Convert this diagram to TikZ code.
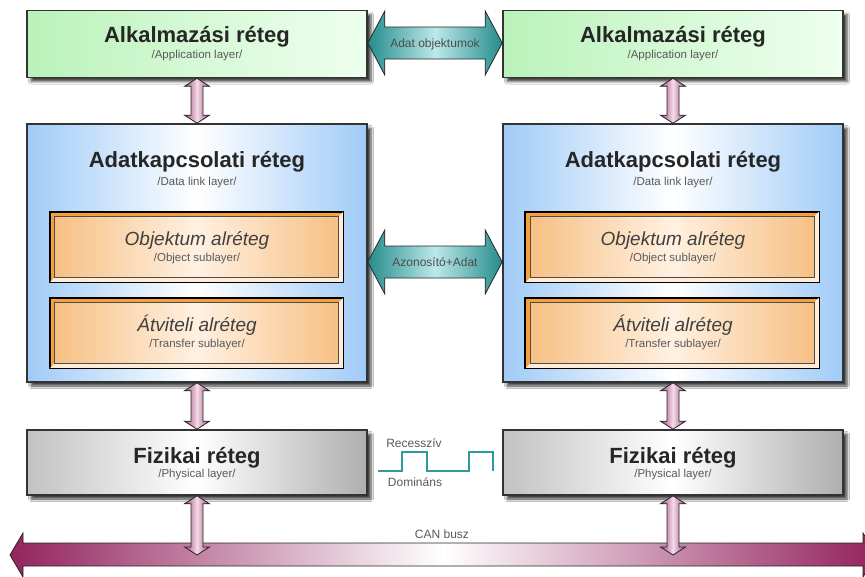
\documentclass[tikz,border=0pt]{standalone}
\usepackage{fontspec}
\setmainfont{Liberation Sans}
\usetikzlibrary{calc,shadows.blur}
\definecolor{boxline}{HTML}{333333}
\definecolor{grnL}{HTML}{BAF2BA}
\definecolor{grnM}{HTML}{D6F9D6}
\definecolor{grnR}{HTML}{EEFFEE}
\definecolor{bluE}{HTML}{A0CBF7}
\definecolor{grayE}{HTML}{C2C2C2}
\definecolor{orgE}{HTML}{F7C084}
\definecolor{orgM}{HTML}{FFF1E2}
\definecolor{orgD}{HTML}{F4A03C}
\definecolor{pinkE}{HTML}{A84579}
\definecolor{pinkM}{HTML}{F2DCE8}
\definecolor{busE}{HTML}{93235E}
\definecolor{tealD}{HTML}{258C8C}
\definecolor{tealL}{HTML}{BDE8E8}
\definecolor{wave}{HTML}{2E9C9C}
\definecolor{subtxt}{HTML}{5A5A5A}
\tikzset{
  layerbox/.style={draw=boxline, line width=1.6pt, inner sep=0pt,
    blur shadow={shadow xshift=4pt,shadow yshift=-4pt,shadow blur radius=2.5pt,shadow opacity=75}},
  greenbox/.style={layerbox, minimum width=340, minimum height=67, shading=axis, left color=grnL, right color=grnR, middle color=grnM},
  bluebox/.style={layerbox, minimum width=340, minimum height=258, shading=axis, left color=bluE, right color=bluE, middle color=white},
  graybox/.style={layerbox, minimum width=340, minimum height=65, shading=axis, left color=grayE, right color=grayE!90!black, middle color=white},
  orgbox/.style={draw=black, line width=1.2pt, fill=orgD, inner sep=0pt, minimum width=293, minimum height=70},
  orginner/.style={draw=black!70, line width=0.5pt, shading=axis, left color=orgE, right color=orgE, middle color=orgM},
  titletxt/.style={anchor=base, font=\fontsize{22}{24}\selectfont\bfseries, text=black!85},
  itxt/.style={anchor=base, font=\fontsize{19}{21}\selectfont\itshape, text=black!75},
  subtxt/.style={anchor=base, font=\fontsize{11.5}{13}\selectfont, text=subtxt},
  smalltxt/.style={anchor=base, font=\fontsize{12}{14}\selectfont, text=black!65},
  pinkarr/.style={draw=black!85, line width=0.8pt, shading=axis, left color=pinkE, right color=pinkE, middle color=pinkM},
  tealarr/.style={draw=black!85, line width=0.8pt, shading=axis, left color=tealD, right color=tealD, middle color=tealL},
}
\newcommand\vdarr[2]{%
  \path[pinkarr] let \p1=(#1), \p2=(#2) in
    (\x1,\y1) -- (\x1+12.5pt,\y1-8pt) -- (\x1+6pt,\y1-8pt) -- (\x1+6pt,\y2+8pt)
    -- (\x1+12.5pt,\y2+8pt) -- (\x1,\y2) -- (\x1-12.5pt,\y2+8pt) -- (\x1-6pt,\y2+8pt)
    -- (\x1-6pt,\y1-8pt) -- (\x1-12.5pt,\y1-8pt) -- cycle;}
\newcommand\hdarr[3]{%
  \path[tealarr] let \p1=(#1), \p2=(#2) in
    (\x1,\y1) -- (\x1+17pt,\y1+32pt) -- (\x1+17pt,\y1+16pt) -- (\x2-17pt,\y1+16pt)
    -- (\x2-17pt,\y1+32pt) -- (\x2,\y1) -- (\x2-17pt,\y1-32pt) -- (\x2-17pt,\y1-16pt)
    -- (\x1+17pt,\y1-16pt) -- (\x1+17pt,\y1-32pt) -- cycle
    (\x1/2+\x2/2,\y1-4pt) node[smalltxt, text=black!70] (#3) {\csname lbl#3\endcsname};}
\newcommand\bevel[1]{%
  \fill[white!85!orange] (#1.south west) -- (#1.south east) -- (#1.north east)
    -- ($(#1.north east)+(-5,5)$) -- ($(#1.south east)+(-5,-5)$) -- ($(#1.south west)+(5,-5)$) -- cycle;
  \draw[orginner] ($(#1.north west)+(5,5)$) rectangle ($(#1.south east)+(-5,-5)$);
  \draw[black, line width=1.2pt] (#1.south west) rectangle (#1.north east);}
\newcommand\lbltopA{Adat objektumok}
\newcommand\lblmidA{Azonosító+Adat}
\begin{document}
\begin{tikzpicture}[x=1pt,y=-1pt]
\fill[white] (0,0) rectangle (865,576);
\useasboundingbox (0,0) rectangle (865,576);
\begin{scope}
\clip (0,0) rectangle (865,576);
% layer boxes
\node[greenbox] (appL) at (197,44) {};
\node[greenbox] (appR) at (673,44) {};
\node[bluebox] (dlL) at (197,253) {};
\node[bluebox] (dlR) at (673,253) {};
\node[graybox] (phL) at (197,462.5) {};
\node[graybox] (phR) at (673,462.5) {};
\node[orgbox] (objL) at (196.5,247) {};
\node[orgbox] (objR) at (672,247) {};
\node[orgbox] (trL) at (196.5,333) {};
\node[orgbox] (trR) at (672,333) {};
\bevel{objL}\bevel{objR}\bevel{trL}\bevel{trR}
% texts
\foreach \s/\cx in {L/197,R/673}{
  \node[titletxt] (appT\s) at (\cx,42) {Alkalmazási réteg};
  \node[subtxt] (appS\s) at (\cx,58) {/Application layer/};
  \node[titletxt] (dlT\s) at (\cx,167) {Adatkapcsolati réteg};
  \node[subtxt] (dlS\s) at (\cx,185) {/Data link layer/};
  \node[itxt] (objT\s) at (\cx,245) {Objektum alréteg};
  \node[subtxt] (objS\s) at (\cx,261) {/Object sublayer/};
  \node[itxt] (trT\s) at (\cx,331) {Átviteli alréteg};
  \node[subtxt] (trS\s) at (\cx,347) {/Transfer sublayer/};
  \node[titletxt] (phT\s) at (\cx,463) {Fizikai réteg};
  \node[subtxt] (phS\s) at (\cx,477) {/Physical layer/};
}
% teal arrows
\coordinate (mid1) at (435,43);
\coordinate (mid2) at (435,262);
\hdarr{appL.east |- mid1}{appR.west |- mid1}{topA}
\hdarr{dlL.east |- mid2}{dlR.west |- mid2}{midA}
% CAN bus
\path[draw=black!85, line width=0.8pt, shading=axis, left color=busE, right color=busE, middle color=white]
  (10,555) -- (23,533) -- (23,543) -- (863,543) -- (863,533) -- (876,555)
  -- (863,577) -- (863,566) -- (23,566) -- (23,577) -- cycle;
\node[smalltxt] (can) at (442,538) {CAN busz};
\coordinate (busL) at (197,555);
\coordinate (busR) at (673,555);
% pink vertical arrows
\vdarr{appL.south}{dlL.north}
\vdarr{appR.south}{dlR.north}
\vdarr{dlL.south}{phL.north}
\vdarr{dlR.south}{phR.north}
\vdarr{phL.south}{busL}
\vdarr{phR.south}{busR}
% waveform
\draw[wave, line width=2.4pt, line join=miter]
  (378,471) -- (402,471) -- (402,452) -- (427,452) -- (427,471) -- (469,471)
  -- (469,452) -- (493,452) -- (493,471);
\node[smalltxt] (rec) at (414,447) {Recesszív};
\node[smalltxt] (dom) at (415,486) {Domináns};
\end{scope}
\end{tikzpicture}
\end{document}
